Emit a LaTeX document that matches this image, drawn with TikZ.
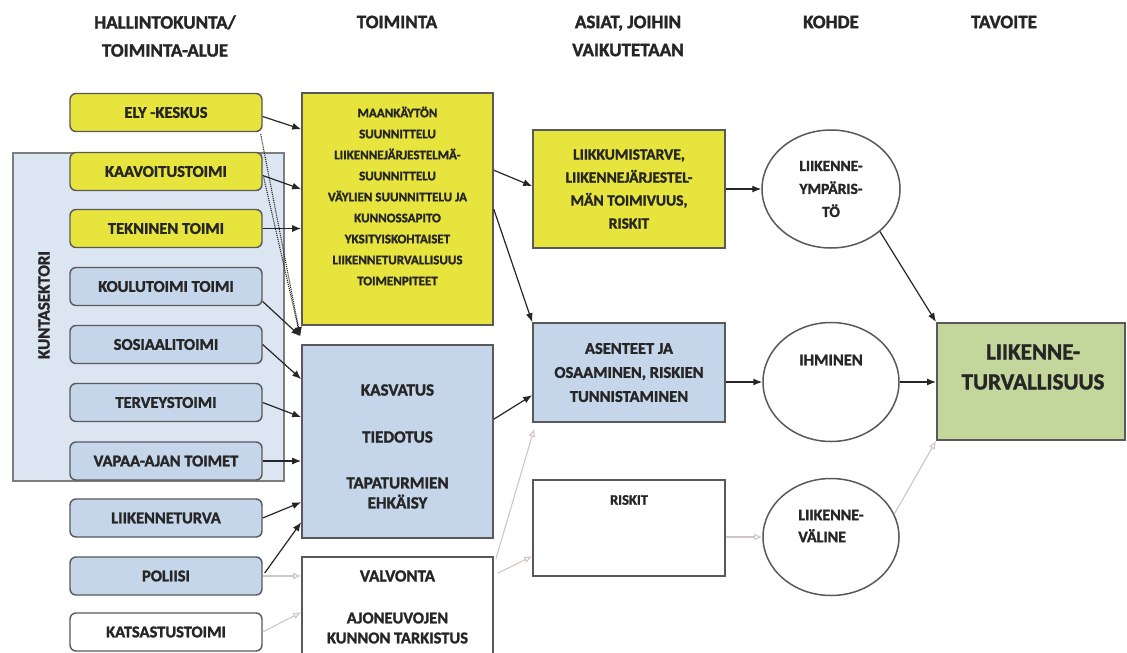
\documentclass[tikz,border=0pt]{standalone}
\usepackage{fontspec}
\setmainfont{Carlito}[BoldFeatures={FakeBold=1.6}]
\usetikzlibrary{shapes.geometric,arrows.meta,calc}
\definecolor{yel}{RGB}{232,228,62}
\definecolor{blu}{RGB}{197,213,234}
\definecolor{kbg}{RGB}{220,230,242}
\definecolor{grn}{RGB}{195,214,155}
\definecolor{bd}{RGB}{89,89,89}
\definecolor{kbd}{RGB}{125,125,125}
\definecolor{lgt}{RGB}{215,195,195}
\definecolor{ink}{RGB}{38,38,38}
\begin{document}
\begin{tikzpicture}[x=1pt,y=-1pt,
  txt/.style={text=ink, font=\fontsize{17}{20}\selectfont\bfseries, inner sep=0pt, align=center},
  hdr/.style={txt, font=\fontsize{19}{28}\selectfont\bfseries},
  lbox/.style={draw=bd, line width=1.4pt, rounded corners=6pt, minimum width=192pt, minimum height=38pt, inner sep=0pt, text=ink, font=\fontsize{16.5}{18}\selectfont\bfseries},
  mbox/.style={draw=bd, line width=1.6pt, inner sep=0pt, text=ink, align=center},
  circ/.style={draw=bd, line width=1.5pt, ellipse, inner sep=0pt, fill=white, text=ink, align=center, font=\fontsize{15.5}{23}\selectfont\bfseries},
  arr/.style={draw=ink, line width=1.2pt, -{Latex[length=9pt,width=7pt]}},
  larr/.style={draw=lgt, line width=1.1pt, -{Latex[length=8pt,width=7pt,open]}},
  dotl/.style={draw=ink, line width=1.1pt, densely dotted, -{Latex[length=9pt,width=7pt]}}
]
\useasboundingbox (0,0) rectangle (1127,653);
\fill[white] (0,0) rectangle (1127,653);

% headers
\node[hdr] (h1) at (165,36) {HALLINTOKUNTA/\\TOIMINTA-ALUE};
\node[hdr] (h2) at (397,22) {TOIMINTA};
\node[hdr] (h3) at (628,36) {ASIAT, JOIHIN\\VAIKUTETAAN};
\node[hdr] (h4) at (831,22) {KOHDE};
\node[hdr] (h5) at (1004,22) {TAVOITE};

% kuntasektori background
\node[draw=kbd, fill=kbg, line width=1.6pt, minimum width=271pt, minimum height=328pt, anchor=north west, inner sep=0pt] (kunta) at (12,152) {};
\node[txt, font=\fontsize{17}{20}\selectfont\bfseries, rotate=90] (kuntat) at (44,305) {KUNTASEKTORI};

% left boxes
\node[lbox, fill=yel] (ely) at (166,112.5) {ELY -KESKUS};
\node[lbox, fill=yel] (kaav) at (166,171.5) {KAAVOITUSTOIMI};
\node[lbox, fill=yel] (tekn) at (166,228.5) {TEKNINEN TOIMI};
\node[lbox, fill=blu] (koul) at (166,286.5) {KOULUTOIMI TOIMI};
\node[lbox, fill=blu] (sos) at (166,344.5) {SOSIAALITOIMI};
\node[lbox, fill=blu] (terv) at (166,402.5) {TERVEYSTOIMI};
\node[lbox, fill=blu] (vapaa) at (166,461) {VAPAA-AJAN TOIMET};
\node[lbox, fill=blu] (liik) at (166,518) {LIIKENNETURVA};
\node[lbox, fill=blu] (pol) at (166,576) {POLIISI};
\node[lbox, fill=white] (kats) at (166,632) {KATSASTUSTOIMI};

% middle column
\node[mbox, fill=yel, minimum width=191pt, minimum height=232pt] (maa) at (397.5,209) {};
\node[txt, font=\fontsize{13}{21}\selectfont\bfseries] (maat) at (397.5,196) {MAANKÄYTÖN\\SUUNNITTELU\\LIIKENNEJÄRJESTELMÄ-\\SUUNNITTELU\\VÄYLIEN SUUNNITTELU JA\\KUNNOSSAPITO\\YKSITYISKOHTAISET\\LIIKENNETURVALLISUUS\\TOIMENPITEET};
\node[mbox, fill=blu, minimum width=191pt, minimum height=193pt] (kas) at (397.5,441.5) {};
\node[txt] (kas1) at (397.5,390) {KASVATUS};
\node[txt] (kas2) at (397.5,437) {TIEDOTUS};
\node[txt, font=\fontsize{17}{20}\selectfont\bfseries] (kas3) at (397.5,493) {TAPATURMIEN\\EHKÄISY};
\node[mbox, fill=white, minimum width=191pt, minimum height=100pt] (valv) at (397.5,607) {};
\node[txt] (valv1) at (397.5,576) {VALVONTA};
\node[txt, font=\fontsize{16.5}{20}\selectfont\bfseries] (valv2) at (397.5,628) {AJONEUVOJEN\\KUNNON TARKISTUS};

% third column
\node[mbox, fill=yel, minimum width=192pt, minimum height=118pt, font=\fontsize{15.5}{23}\selectfont\bfseries] (liikk) at (629,189) {LIIKKUMISTARVE,\\LIIKENNEJÄRJESTEL-\\MÄN TOIMIVUUS,\\RISKIT};
\node[mbox, fill=blu, minimum width=192pt, minimum height=99pt, font=\fontsize{16.5}{24}\selectfont\bfseries] (asen) at (629,372.5) {ASENTEET JA\\OSAAMINEN, RISKIEN\\TUNNISTAMINEN};
\node[mbox, fill=white, minimum width=192pt, minimum height=96pt] (risk) at (629,528) {};
\node[txt, font=\fontsize{14.5}{16}\selectfont\bfseries] (riskt) at (629,500) {RISKIT};

% circles
\node[circ, minimum width=138pt, minimum height=118pt] (ymp) at (831,189) {LIIKENNE-\\YMPÄRIS-\\TÖ};
\node[circ, minimum width=136pt, minimum height=119pt] (ihm) at (831,382) {};
\node[txt, font=\fontsize{16.5}{18}\selectfont\bfseries] (ihmt) at (831,360) {IHMINEN};
\node[circ, minimum width=136pt, minimum height=117pt] (val) at (831,537) {};
\node[txt, align=left, font=\fontsize{16}{22}\selectfont\bfseries] (valt) at (831,526) {LIIKENNE-\\VÄLINE};

% goal
\node[mbox, fill=grn, minimum width=188pt, minimum height=117pt, line width=2pt] (goal) at (1031,381.5) {};
\node[txt, font=\fontsize{23}{30}\selectfont\bfseries] (goalt) at (1033,367) {LIIKENNE-\\TURVALLISUUS};

% arrows left -> middle
\draw[arr] ($(ely.east)+(0,4)$) -- ($(maa.north west)+(0,37)$);
\draw[arr] ($(kaav.east)+(0,4)$) -- ($(maa.north west)+(0,97)$);
\draw[arr] (tekn.east) -- (maa.west |- tekn.east);
\draw[dotl] ($(ely.south east)+(-2,2)$) -- ($(kas.north west)+(-1,-8)$);
\draw[dotl] ($(kaav.east)+(1,6)$) -- ($(kas.north west)+(-1,-8)$);
\draw[arr] ($(koul.east)+(0,15)$) -- ($(kas.north west)+(-1,-8)$);
\draw[arr] (sos.east) -- ($(kas.north west)+(0,35)$);
\draw[arr] (terv.east) -- ($(kas.north west)+(0,73)$);
\draw[arr] (vapaa.east) -- (kas.west |- vapaa.east);
\draw[arr] (liik.east) -- ($(kas.north west)+(0,158)$);
\draw[arr] ($(pol.east)+(2,-3)$) -- ($(kas.north west)+(0,178)$);
\draw[larr] (pol.east) -- (valv.west |- pol.east);
\draw[larr] (kats.east) -- ($(valv.north west)+(0,56)$);

% middle -> third
\draw[arr] ($(maa.north east)+(0,78)$) -- ($(liikk.north west)+(0,57)$);
\draw[arr] ($(maa.north east)+(0,117)$) -- (asen.north west);
\draw[arr] ($(kas.north east)+(0,75)$) -- ($(asen.north west)+(0,73)$);
\draw[larr] ($(valv.north east)+(2,3)$) -- ($(asen.south west)+(2,6)$);
\draw[larr] ($(valv.north east)+(4,17)$) -- ($(risk.north west)+(0,77)$);

% third -> circles
\draw[arr] (liikk.east) -- (ymp.west);
\draw[arr] (asen.east |- ihm.west) -- (ihm.west);
\draw[larr] (risk.east |- val.west) -- (val.west);

% circles -> goal
\draw[arr] (ymp.-41) -- (goal.north west);
\draw[arr] (ihm.east) -- (goal.west |- ihm.east);
\draw[larr] (val.20) -- (goal.south west);
\end{tikzpicture}
\end{document}
